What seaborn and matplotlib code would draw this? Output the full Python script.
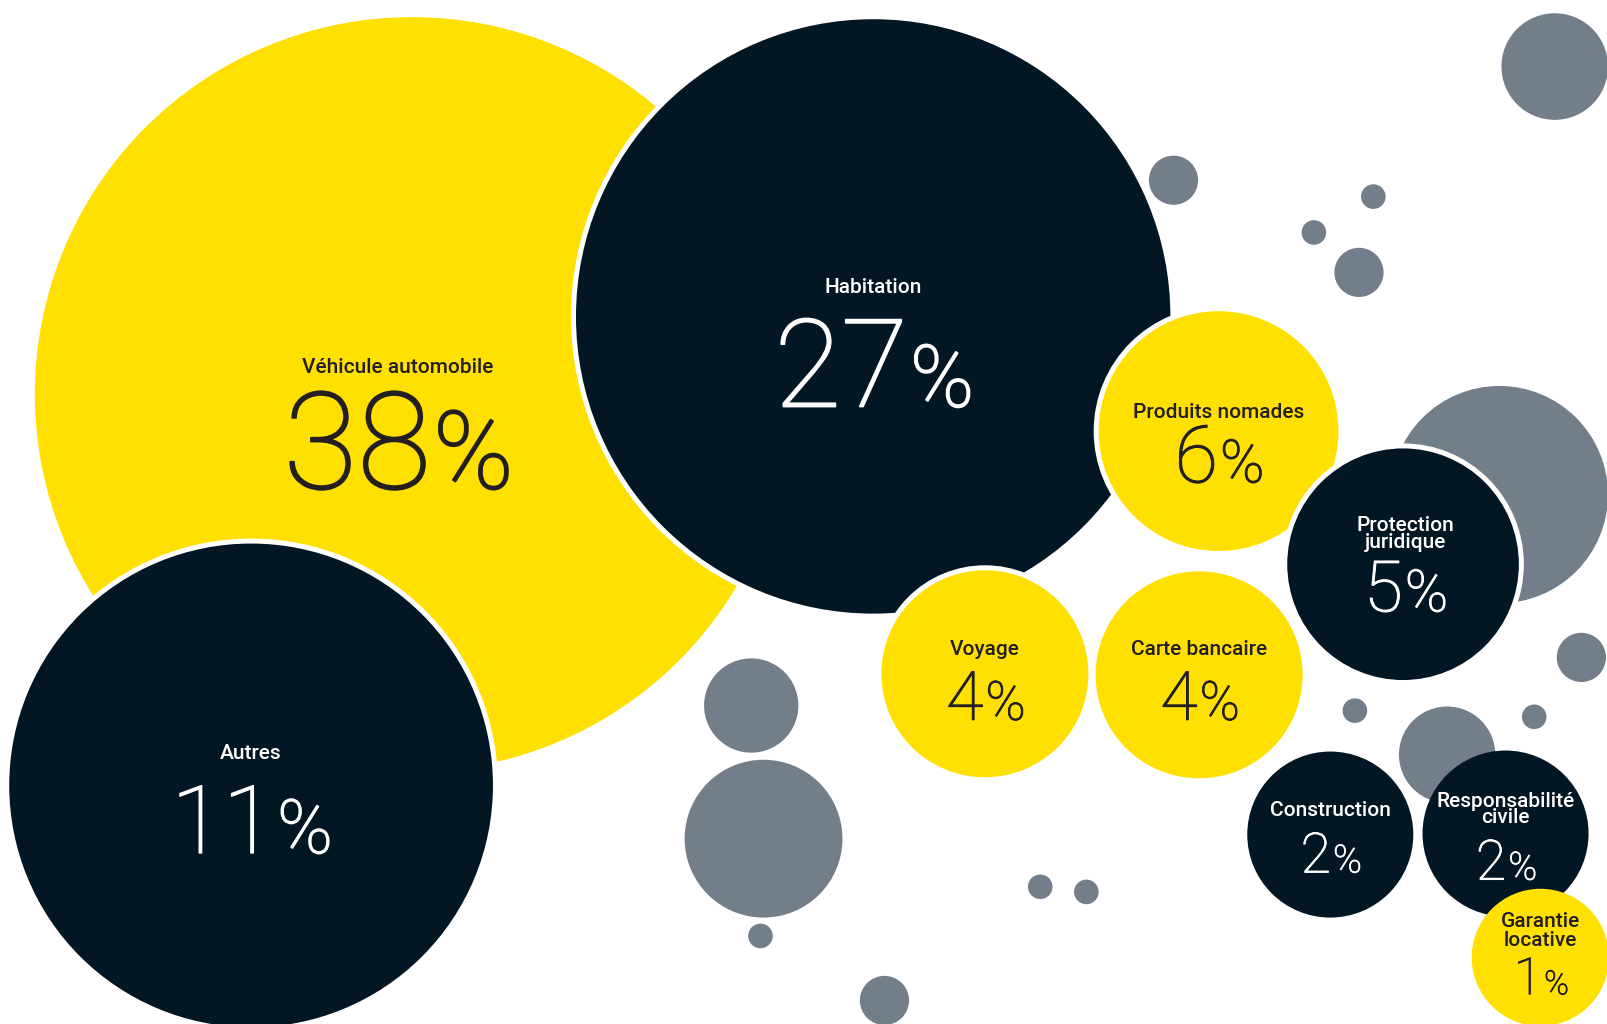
import numpy as np
import pandas as pd
import matplotlib
matplotlib.use("Agg")
import matplotlib.pyplot as plt
import matplotlib.patheffects as pe
import seaborn as sns

# labelled bubbles (coordinates in the 1568x1000 reference frame)
categories = ["Véhicule automobile", "Habitation", "Autres", "Produits nomades", "Voyage",
              "Carte bancaire", "Protection\njuridique", "Construction",
              "Responsabilité\ncivile", "Garantie\nlocative"]
shares = [38, 27, 11, 6, 4, 4, 5, 2, 2, 1]
bubble_x = [402, 852, 245, 1189, 961, 1170, 1369, 1298, 1469, 1503]
bubble_y = [385, 309, 767, 421, 658, 659, 551, 815, 814, 935]
bubble_r = [368, 290, 236, 117, 101, 101, 113, 81, 81, 67]
bubble_tone = ["yellow", "navy", "navy", "yellow", "yellow", "yellow",
               "navy", "navy", "navy", "yellow"]

# decorative grey dots
dot_x = [1517, 1145, 1340, 1282, 1326, 1463, 1543, 1322, 1497, 1412, 733, 745, 742, 1015, 1060, 863]
dot_y = [65, 176, 192, 227, 266, 483, 642, 694, 700, 737, 689, 819, 914, 866, 871, 977]
dot_r = [52, 24, 12, 12, 24, 106, 24, 12, 12, 47, 46, 77, 12, 12, 12, 24]

palette = {"yellow": "#FFE000", "navy": "#021624", "grey": "#727E8A"}
text_col = {"yellow": "#231F20", "navy": "#FFFFFF"}

W, H = 1568, 1000           # reference frame
k = 1607 / W                # output pixels per frame unit
PT = 0.72                   # points per pixel at dpi 100

# white ring around some bubbles (output px)
ring = [0, 5, 5, 5, 5, 0, 5, 0, 0, 0]

# text layout: label baselines, number baseline (offsets from centre), font sizes, dx
layout = [
    ([-21], 92, 97, 78, -14),
    ([-23], 88, 88, 62, 0),
    ([-26], 66, 68, 54, 0),
    ([-13], 50, 57, 43, 0),
    ([-18], 45, 49, 39, 0),
    ([-19], 44, 49, 39, 0),
    ([-32, -16], 46, 51, 42, 2),
    ([-18], 37, 40, 28, 0),
    ([-26, -10], 45, 40, 28, 0),
    ([-30, -11], 36, 37, 24, 0),
]

# one table, in drawing order: grey dots first, then the labelled bubbles
df = pd.DataFrame({
    "x": dot_x + bubble_x,
    "y": dot_y + bubble_y,
    "r": dot_r + bubble_r,
    "tone": ["grey"] * len(dot_x) + bubble_tone,
})
lw_px = np.array([0] * len(dot_x) + ring, dtype=float)
# marker area in pt^2; ring drawn half outside the fill edge
df["area"] = (2 * (df["r"] * k + lw_px / 2) * PT) ** 2

sns.set_theme(style="white")
plt.rcParams["font.family"] = ["Roboto", "DejaVu Sans"]

fig = plt.figure(figsize=(16.07, 10.24), dpi=100)
ax = fig.add_axes([0, 0, 1, 1])
amin, amax = df["area"].min(), df["area"].max()
sns.scatterplot(data=df, x="x", y="y", hue="tone", palette=palette,
                size="area", sizes=(amin, amax), size_norm=(amin, amax),
                edgecolor="white", linewidth=0, legend=False, ax=ax)
pts = ax.collections[0]
pts.set_linewidths(lw_px * PT)
pts.set_edgecolor("white")

ax.set_xlim(0, W)
ax.set_ylim(H, 0)
ax.set_axis_off()

renderer = fig.canvas.get_renderer()
for i, name in enumerate(categories):
    cx, cy = bubble_x[i], bubble_y[i]
    col = text_col[bubble_tone[i]]
    label_dy, num_dy, num_pt, pct_pt, dx = layout[i]
    for line, ldy in zip(name.split("\n"), label_dy):
        ax.text(cx + dx, cy + ldy, line, ha="center", va="baseline",
                fontsize=15, fontweight="medium", color=col)
    # light digits, thickened a little to look like DIN light
    fx = [pe.withStroke(linewidth=max(0.6, num_pt / 70), foreground=col)]
    tn = ax.text(0, cy + num_dy, str(shares[i]), ha="left", va="baseline",
                 fontsize=num_pt, fontweight="light", color=col, path_effects=fx)
    tp = ax.text(0, cy + num_dy, "%", ha="left", va="baseline",
                 fontsize=pct_pt, fontweight="light", color=col, path_effects=fx)
    wn = tn.get_window_extent(renderer).width / k
    wp = tp.get_window_extent(renderer).width / k
    x0 = cx + dx - (wn + wp) / 2
    tn.set_x(x0)
    tp.set_x(x0 + wn + 2)

fig.savefig("out.png", dpi=100, facecolor="white")
